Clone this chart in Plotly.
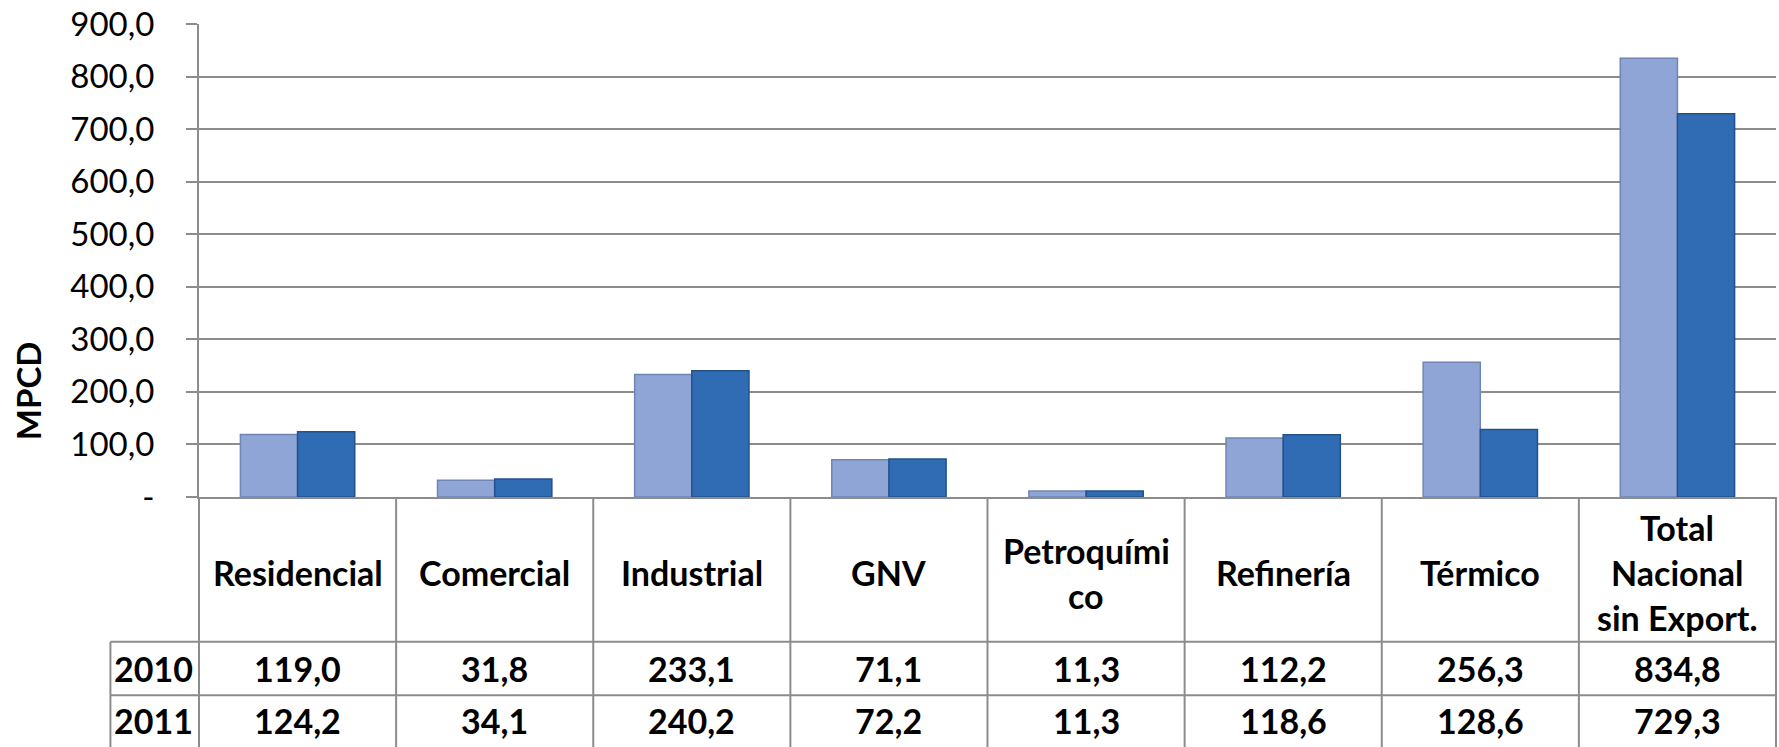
import plotly.graph_objects as go

# ---------------- data ----------------
categories = ["Residencial", "Comercial", "Industrial", "GNV", "Petroquímico",
              "Refinería", "Térmico", "Total Nacional sin Export."]
header_lines = [["Residencial"], ["Comercial"], ["Industrial"], ["GNV"],
                ["Petroquími", "co"], ["Refinería"], ["Térmico"],
                ["Total", "Nacional", "sin Export."]]
series_names = ["2010", "2011"]
values_2010 = [119.0, 31.8, 233.1, 71.1, 11.3, 112.2, 256.3, 834.8]
values_2011 = [124.2, 34.1, 240.2, 72.2, 11.3, 118.6, 128.6, 729.3]
y_tick_vals = [0, 100, 200, 300, 400, 500, 600, 700, 800, 900]
y_tick_text = ["-", "100,0", "200,0", "300,0", "400,0", "500,0",
               "600,0", "700,0", "800,0", "900,0"]
y_title = "MPCD"

# ---------------- layout helpers ----------------
W, H = 1779, 747
PLOT_L, PLOT_R = 198.6, 1776.0
PLOT_T, PLOT_B = 24.3, 497.3
GRID = "#8c8c8c"
FONT = "Lato"
color_2010 = "#8ea5d6"
color_2011 = "#2f6cb3"


def py(Y):  # pixel row -> paper y
    return (PLOT_B - Y) / (PLOT_B - PLOT_T)


def px(X):  # pixel col -> paper x
    return (X - PLOT_L) / (PLOT_R - PLOT_L)


def fmt(v):
    return f"{v:.1f}".replace(".", ",")


fig = go.Figure()
fig.add_trace(go.Bar(x=categories, y=values_2010, name=series_names[0],
                     marker=dict(color=color_2010, line=dict(color="#6f86b5", width=1.5))))
fig.add_trace(go.Bar(x=categories, y=values_2011, name=series_names[1],
                     marker=dict(color=color_2011, line=dict(color="#24518c", width=1.5))))

n = len(categories)
shapes = []
shapes.append(dict(type="line", xref="x domain", yref="paper", x0=0, x1=0,
                   y0=py(PLOT_B), y1=py(H + 2), line=dict(color=GRID, width=2)))
for k in range(1, n + 1):
    shapes.append(dict(type="line", xref="x domain", yref="paper", x0=k / n, x1=k / n,
                       y0=py(PLOT_B), y1=py(H + 2), line=dict(color=GRID, width=2)))
row_top_2010, row_top_2011 = 642.0, 695.5
label_left = 110.0
for Y in (row_top_2010, row_top_2011):
    shapes.append(dict(type="line", xref="paper", yref="paper", x0=px(label_left), x1=1,
                       y0=py(Y), y1=py(Y), line=dict(color=GRID, width=2)))
shapes.append(dict(type="line", xref="paper", yref="paper", x0=px(label_left), x1=px(label_left),
                   y0=py(row_top_2010), y1=py(H + 2), line=dict(color=GRID, width=2)))

annotations = []
tfont = dict(family=FONT, size=34, color="black", weight="bold")
header_center = 573.0
line_gap = 45.0
for cat, lines in zip(categories, header_lines):
    m = len(lines)
    for i, t in enumerate(lines):
        Y = header_center + (i - (m - 1) / 2) * line_gap
        annotations.append(dict(x=cat, xref="x", y=py(Y), yref="paper", text=t,
                                showarrow=False, font=tfont, xanchor="center", yanchor="middle"))
row_centers = [668.5, 721.0]
for name, vals, Y in zip(series_names, [values_2010, values_2011], row_centers):
    annotations.append(dict(x=px(112), xref="paper", y=py(Y), yref="paper", text=name,
                            showarrow=False, font=tfont, xanchor="left", yanchor="middle"))
    for cat, v in zip(categories, vals):
        annotations.append(dict(x=cat, xref="x", y=py(Y), yref="paper", text=fmt(v),
                                showarrow=False, font=tfont, xanchor="center", yanchor="middle"))
annotations.append(dict(x=px(27), xref="paper", y=py(391), yref="paper", text=y_title,
                        textangle=-90, showarrow=False,
                        font=dict(family=FONT, size=33, color="black", weight="bold"),
                        xanchor="center", yanchor="middle"))

fig.update_layout(
    width=W, height=H,
    margin=dict(l=PLOT_L, r=W - PLOT_R, t=PLOT_T, b=H - PLOT_B, pad=0, autoexpand=False),
    paper_bgcolor="white", plot_bgcolor="white",
    barmode="group", bargap=0.42, bargroupgap=0,
    showlegend=False,
    shapes=shapes, annotations=annotations,
    font=dict(family=FONT, color="black"),
    xaxis=dict(type="category", showticklabels=False, showgrid=False, ticks="",
               showline=True, linecolor=GRID, linewidth=2, zeroline=False, automargin=False),
    yaxis=dict(range=[0, 900], tickvals=y_tick_vals, ticktext=y_tick_text,
               showgrid=True, gridcolor=GRID, gridwidth=2, zeroline=False,
               showline=True, linecolor=GRID, linewidth=2,
               ticks="outside", ticklen=11, tickwidth=2, tickcolor=GRID,
               ticklabelstandoff=25, automargin=False,
               tickfont=dict(family=FONT, size=33, color="black")),
)

fig.write_html("out.html", config={"displayModeBar": False},
               post_script="document.body.style.margin='0';document.body.style.overflow='hidden';")
